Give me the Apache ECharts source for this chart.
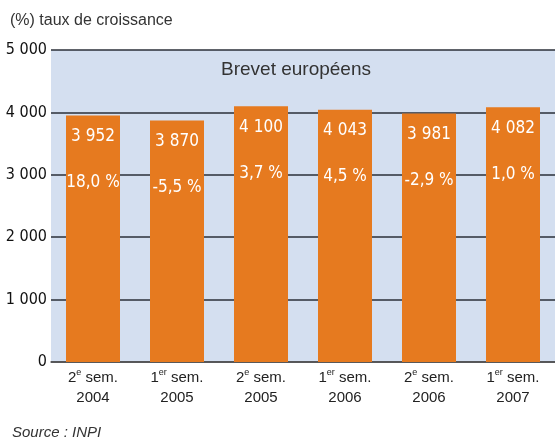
<!DOCTYPE html>
<html>
<head>
<meta charset="utf-8">
<script src="https://cdn.jsdelivr.net/npm/echarts@6/dist/echarts.min.js"></script>
<style>
  html, body { margin: 0; padding: 0; background: #fff; }
  #main { width: 555px; height: 441px; }
</style>
</head>
<body>
<div id="main"></div>
<script>
// données
var semNum = ['2', '1', '2', '1', '2', '1'];
var semSup = ['e', 'er', 'e', 'er', 'e', 'er'];
var annees = ['2004', '2005', '2005', '2006', '2006', '2007'];
var brevets = [3952, 3870, 4100, 4043, 3981, 4082];
var croissance = ['18,0 %', '-5,5 %', '3,7 %', '4,5 %', '-2,9 %', '1,0 %'];

function fmt(v) {
    // séparateur de milliers : espace
    return String(v).replace(/\B(?=(\d{3})+(?!\d))/g, ' ');
}

var categories = annees.map(function (a, i) { return i; });

var myChart = echarts.init(document.getElementById('main'));

var option = {
    animation: false,
    title: {
        text: 'Brevet européens',
        left: 291,
        textAlign: 'center',
        top: 55,
        textStyle: {
            fontFamily: 'Liberation Sans',
            fontSize: 19,
            fontWeight: 'normal',
            color: '#333'
        }
    },
    graphic: [
        {
            type: 'text', left: 10, top: 13,
            style: { text: '(%) taux de croissance', font: '16px "Liberation Sans"', fill: '#333' }
        },
        {
            type: 'text', left: 12, top: 425,
            style: { text: 'Source : INPI', font: 'italic 15px "Liberation Sans"', fill: '#333' }
        }
    ],
    grid: {
        left: 51,
        top: 50,
        width: 508,
        height: 312,
        show: true,
        backgroundColor: '#d4dff0',
        borderWidth: 0
    },
    xAxis: {
        type: 'category',
        data: categories,
        axisLine: { lineStyle: { color: '#555', width: 1.5 } },
        axisTick: { show: false },
        axisLabel: {
            margin: 6,
            interval: 0,
            formatter: function (v, i) {
                return '{a|' + semNum[i] + '}{s|' + semSup[i] + '}{a| sem.}\n{a|' + annees[i] + '}';
            },
            rich: {
                a: { fontFamily: 'Liberation Sans', fontSize: 15, color: '#222', lineHeight: 20 },
                s: { fontFamily: 'Liberation Sans', fontSize: 9, color: '#222', verticalAlign: 'top', lineHeight: 20, padding: [0, 0, 8, 0] }
            }
        }
    },
    yAxis: {
        type: 'value',
        min: 0,
        max: 5000,
        interval: 1000,
        axisLine: { show: false },
        axisTick: { show: false },
        axisLabel: {
            margin: 4,
            formatter: fmt,
            fontFamily: '"DejaVu Sans Condensed", Roboto',
            fontSize: 16,
            color: '#111'
        },
        splitLine: { lineStyle: { color: '#2b2f38', width: 1.5 } }
    },
    series: [{
        type: 'bar',
        data: brevets,
        barWidth: 54,
        itemStyle: { color: '#e67a1f' },
        label: {
            show: true,
            position: 'insideTop',
            distance: 5,
            formatter: function (p) {
                return '{v|' + fmt(p.value) + '}\n{p|' + croissance[p.dataIndex] + '}';
            },
            rich: {
                v: { fontFamily: '"DejaVu Sans Condensed", Roboto', fontSize: 17, color: '#fff', lineHeight: 32 },
                p: { fontFamily: '"DejaVu Sans Condensed", Roboto', fontSize: 17, color: '#fff', lineHeight: 60 }
            }
        }
    }]
};

myChart.setOption(option);
window.addEventListener('resize', function () {
    myChart.resize();
});
</script>
</body>
</html>
